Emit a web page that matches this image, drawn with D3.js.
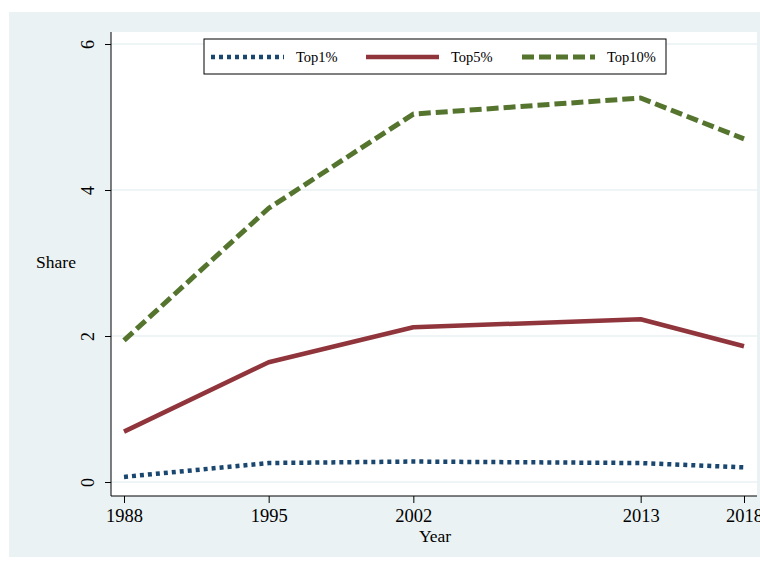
<!DOCTYPE html>
<html>
<head>
<meta charset="utf-8">
<script src="https://cdn.jsdelivr.net/npm/d3@7/dist/d3.min.js"></script>
<style>
  html, body { margin: 0; padding: 0; background: #ffffff; }
  svg { display: block; }
  text { font-family: "Liberation Serif", "Times New Roman", serif; fill: #000; }
</style>
</head>
<body>
<svg id="chart" width="760" height="562"></svg>
<script>
// Income shares by year
const years = [1988, 1995, 2002, 2013, 2018];
const top1 = [0.07, 0.26, 0.28, 0.26, 0.20];
const top5 = [0.69, 1.64, 2.12, 2.23, 1.86];
const top10 = [1.94, 3.75, 5.04, 5.26, 4.70];
const yTicks = [0, 2, 4, 6];
const seriesNames = ["Top1%", "Top5%", "Top10%"];

const svg = d3.select("#chart");

// outer graph region
svg.append("rect").attr("x", 9).attr("y", 12).attr("width", 760).attr("height", 545)
  .attr("fill", "#eaf2f3");

const plot = { left: 111, right: 757, top: 32, bottom: 496 };

// inner plot region
svg.append("rect").attr("x", plot.left).attr("y", plot.top)
  .attr("width", plot.right - plot.left).attr("height", plot.bottom - plot.top)
  .attr("fill", "#ffffff");

const x = d3.scaleLinear().domain([1988, 2018]).range([124, 744]);
const y = d3.scaleLinear().domain([0, 6]).range([482, 44]);

// horizontal grid lines
svg.append("g").selectAll("line").data(yTicks).join("line")
  .attr("x1", plot.left).attr("x2", plot.right)
  .attr("y1", d => y(d)).attr("y2", d => y(d))
  .attr("stroke", "#eaf2f3").attr("stroke-width", 1.5);

// y axis
const yAxis = svg.append("g").attr("transform", `translate(${plot.left},0)`)
  .call(d3.axisLeft(y).tickValues(yTicks).tickSize(6).tickPadding(4).tickFormat(d3.format("d")));
yAxis.select(".domain").attr("d", `M0,${plot.top}V${plot.bottom}`).attr("stroke", "#000");
yAxis.selectAll(".tick line").attr("stroke", "#000");
yAxis.selectAll(".tick text")
  .attr("x", 0).attr("dy", 0)
  .attr("text-anchor", "middle")
  .attr("transform", "translate(-21,0) rotate(-90)")
  .attr("dominant-baseline", "middle")
  .style("font-family", "'Liberation Serif', serif").style("font-size", "18px").attr("fill", "#000");

// x axis
const xAxis = svg.append("g").attr("transform", `translate(0,${plot.bottom})`)
  .call(d3.axisBottom(x).tickValues(years).tickSize(7).tickPadding(6).tickFormat(d3.format("d")));
xAxis.select(".domain").attr("d", `M${plot.left},0H${plot.right}`).attr("stroke", "#000");
xAxis.selectAll(".tick line").attr("stroke", "#000");
xAxis.selectAll(".tick text")
  .style("font-family", "'Liberation Serif', serif").style("font-size", "18.5px").attr("fill", "#000");

// axis titles
svg.append("text").attr("x", 435).attr("y", 542).attr("text-anchor", "middle")
  .style("font-size", "17.5px").text("Year");
svg.append("text").attr("x", 56).attr("y", 268).attr("text-anchor", "middle")
  .style("font-size", "17.5px").text("Share");

// series styles
const styles = [
  { values: top1, color: "#1a476f", width: 4.5, dash: "4,4" },
  { values: top5, color: "#90353b", width: 4.5, dash: null },
  { values: top10, color: "#55752f", width: 5, dash: "12,5" }
];

const line = d3.line().x(d => x(d[0])).y(d => y(d[1]));

styles.forEach(s => {
  svg.append("path")
    .datum(years.map((yr, i) => [yr, s.values[i]]))
    .attr("d", line)
    .attr("fill", "none")
    .attr("stroke", s.color)
    .attr("stroke-width", s.width)
    .attr("stroke-dasharray", s.dash)
    .attr("stroke-linejoin", "round");
});

// legend
const legend = svg.append("g");
legend.append("rect").attr("x", 204).attr("y", 39).attr("width", 462).attr("height", 35)
  .attr("fill", "#ffffff").attr("stroke", "#000").attr("stroke-width", 1);

const legendX = [211, 366, 522];
seriesNames.forEach((name, i) => {
  const s = styles[i];
  legend.append("line")
    .attr("x1", legendX[i]).attr("x2", legendX[i] + 73)
    .attr("y1", 57).attr("y2", 57)
    .attr("stroke", s.color).attr("stroke-width", s.width)
    .attr("stroke-dasharray", s.dash);
  legend.append("text")
    .attr("x", legendX[i] + 85).attr("y", 62)
    .style("font-size", "14.5px").text(name);
});
</script>
</body>
</html>
